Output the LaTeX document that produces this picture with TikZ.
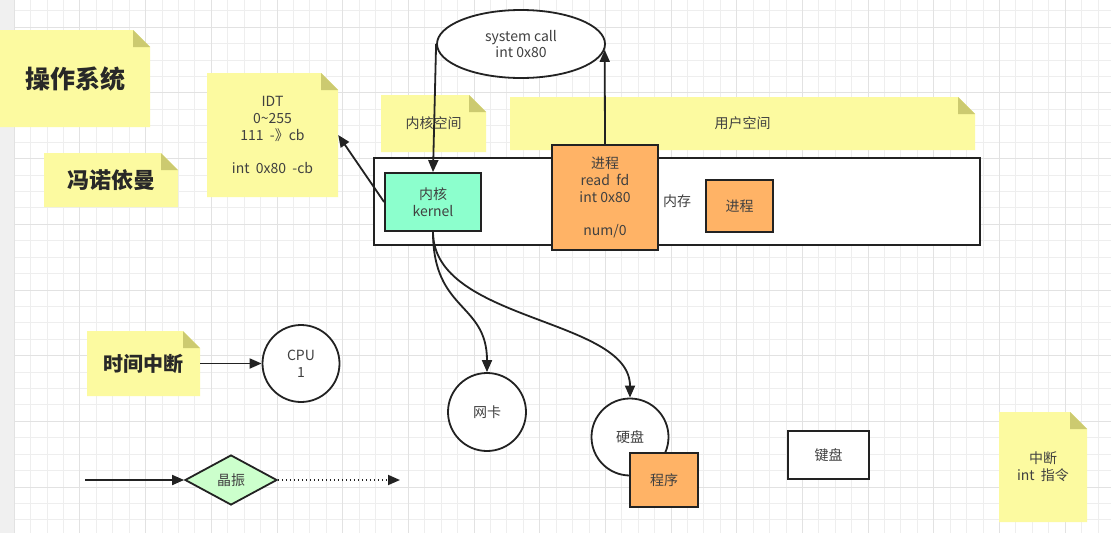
\documentclass[tikz,border=0pt]{standalone}
\usepackage{fontspec}
\setmainfont{Noto Sans CJK SC}
\usetikzlibrary{arrows.meta,shapes.geometric}
\definecolor{notefill}{RGB}{252,250,160}
\definecolor{notefold}{RGB}{204,202,112}
\definecolor{kgreen}{RGB}{140,255,205}
\definecolor{orangef}{RGB}{255,179,102}
\definecolor{dgreen}{RGB}{204,255,204}
\definecolor{txt}{RGB}{64,64,64}
\definecolor{btxt}{RGB}{40,40,40}
\definecolor{ln}{RGB}{34,34,34}
\definecolor{gminor}{RGB}{238,238,238}
\definecolor{gmajor}{RGB}{226,226,226}
\definecolor{strip}{RGB}{240,240,240}
\newcommand{\fs}[2]{\fontsize{#1}{#2}\selectfont}
\tikzset{
  note/.style={rectangle, inner sep=0pt, text=txt, align=center,
    path picture={
      \fill[notefill] (path picture bounding box.south west) |- ([xshift=-17pt]path picture bounding box.north east)
        -- ([yshift=-17pt]path picture bounding box.north east) |- cycle;
      \fill[notefold] ([xshift=-17pt]path picture bounding box.north east) -- ([xshift=-17pt,yshift=-17pt]path picture bounding box.north east)
        -- ([yshift=-17pt]path picture bounding box.north east) -- cycle;
    }},
  box/.style={rectangle, draw=ln, line width=1.8pt, inner sep=0pt, text=txt, align=center},
  circ/.style={circle, draw=ln, line width=1.8pt, inner sep=0pt, fill=white, text=txt, align=center},
  arr/.style={draw=ln, line width=1.8pt, -{Triangle[length=12pt,width=10pt]}},
}
\begin{document}
\begin{tikzpicture}[x=1pt,y=-1pt, font=\fs{14}{16.8}]
\useasboundingbox (0,0) rectangle (1111,533);
\fill[white] (0,0) rectangle (1111,533);
\fill[strip] (0,0) rectangle (14.3,533);
% grid
\foreach \i in {0,...,67} {\draw[gminor, line width=1pt] ({14.3+16.42*\i},0) -- ({14.3+16.42*\i},533);}
\foreach \i in {0,...,32} {\draw[gminor, line width=1pt] (14.3,{10.86+16.42*\i}) -- (1111,{10.86+16.42*\i});}
\foreach \i in {0,...,16} {\draw[gmajor, line width=1pt] ({14.3+65.68*\i},0) -- ({14.3+65.68*\i},533);}
\foreach \i in {0,...,8} {\draw[gmajor, line width=1pt] (14.3,{27.3+65.68*\i}) -- (1111,{27.3+65.68*\i});}
\draw[gmajor, line width=1pt] (14.3,0) -- (14.3,533);

% notes
\node[note, minimum width=150pt, minimum height=97pt, font=\fs{25}{30}\bfseries, text=btxt] (os) at (75,78.5) {操作系统};
\node[note, minimum width=134pt, minimum height=54pt, font=\fs{22}{26}\bfseries, text=btxt] (fnym) at (111,180) {冯诺依曼};
\node[note, minimum width=131pt, minimum height=124pt] (idt) at (272.5,135)
  {IDT\\0\textasciitilde255\\111\ \ -》cb\\[16pt]int\ \ 0x80\ \ -cb};
\node[note, minimum width=105pt, minimum height=57pt] (ksp) at (433.5,123.5) {内核空间};
\node[note, minimum width=465pt, minimum height=53pt] (usp) at (742.5,123.5) {用户空间};
\node[note, minimum width=113pt, minimum height=65pt, font=\fs{20}{24}\bfseries, text=btxt] (tint) at (143.5,363.5) {时间中断};
\node[note, minimum width=88pt, minimum height=110pt] (intn) at (1043,467) {中断\\int\ \ 指令};

% memory
\node[box, fill=white, minimum width=606pt, minimum height=87pt] (mem) at (677,201.5) {内存};
\node[box, fill=kgreen, minimum width=96pt, minimum height=58pt] (kernel) at (433,202) {内核\\kernel};
\node[box, fill=orangef, minimum width=106pt, minimum height=105pt] (proc) at (605,197.5)
  {进程\\read\ \ fd\\int 0x80\\[16pt]num/0};
\node[box, fill=orangef, minimum width=67pt, minimum height=52pt] (proc2) at (739.5,206) {进程};

% system call
\node[ellipse, draw=ln, line width=1.8pt, fill=white, inner sep=0pt, minimum width=168pt, minimum height=68pt, text=txt, align=center] (sc) at (521,44) {system call\\int 0x80};

% devices
\node[circ, minimum size=77pt] (cpu) at (301,363.5) {CPU\\1};
\node[circ, minimum size=78pt] (nic) at (487,412) {网卡};
\node[circ, minimum size=77pt] (disk) at (630,437) {硬盘};
\node[box, fill=orangef, minimum width=68pt, minimum height=54pt] (prog) at (664,480) {程序};
\node[box, fill=white, minimum width=81pt, minimum height=48pt] (kbd) at (828.5,455) {键盘};
\node[diamond, draw=ln, line width=1.8pt, fill=dgreen, inner sep=0pt, minimum width=92pt, minimum height=50pt, text=txt] (xtal) at (231,480) {晶振};
\coordinate (xin) at (85,480);
\coordinate (xout) at (400,480);

% connectors
\draw[arr] (sc.west) -- (kernel.north);
\draw[arr] (proc.north) -- (sc.-4);
\draw[arr] (kernel.west) -- (idt.east);
\draw[arr] (kernel.south) .. controls +(0,80) and +(0,-70) .. (nic.north);
\draw[arr] (kernel.south) .. controls +(0,90) and +(0,-80) .. (disk.north);
\draw[arr] (tint.east) -- (cpu.west);
\draw[arr] (xin) -- (xtal.west);
\draw[arr, dash pattern=on 1.5pt off 2.5pt] (xtal.east) -- (xout);
\end{tikzpicture}
\end{document}
